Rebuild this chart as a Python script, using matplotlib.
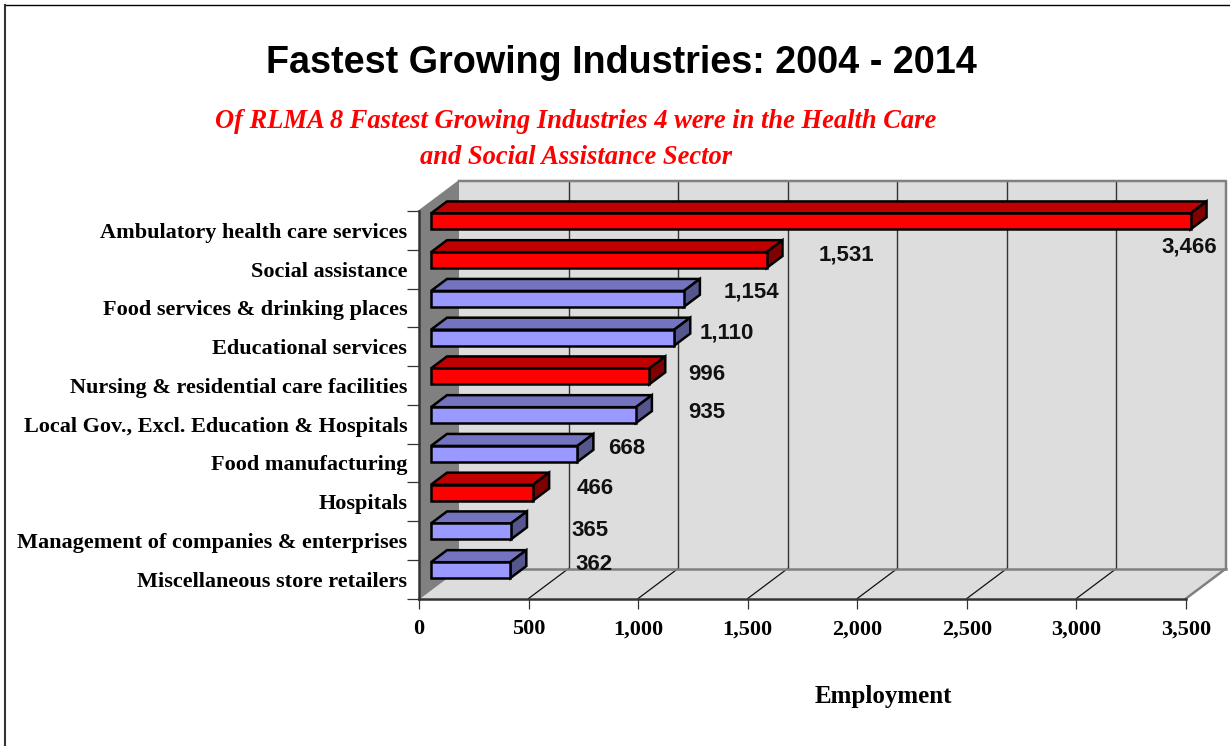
import matplotlib
matplotlib.use('Agg')
import matplotlib.pyplot as plt
from matplotlib.patches import Polygon
from matplotlib.lines import Line2D

industries = ['Ambulatory health care services', 'Social assistance',
              'Food services & drinking places', 'Educational services',
              'Nursing & residential care facilities',
              'Local Gov., Excl. Education & Hospitals', 'Food manufacturing',
              'Hospitals', 'Management of companies & enterprises',
              'Miscellaneous store retailers']
employment = [3466, 1531, 1154, 1110, 996, 935, 668, 466, 365, 362]
health_sector = [True, True, False, False, True, False, False, True, False, False]
value_labels = ['3,466', '1,531', '1,154', '1,110', '996', '935', '668', '466', '365', '362']
x_ticks = [0, 500, 1000, 1500, 2000, 2500, 3000, 3500]
x_tick_labels = ['0', '500', '1,000', '1,500', '2,000', '2,500', '3,000', '3,500']

# label centres in the original sit by hand, given here in pixels
label_px = [(1189, 247), (846, 255), (751, 292), (727, 333), (707, 374),
            (707, 413), (627, 449), (595, 488), (590, 531), (594, 565)]

W, H = 1230, 746
X0, X1, Y_TOP, Y_BOT = 419, 1186, 211, 598.5
DEPTH_X, DEPTH_Y = 40, 30

fig = plt.figure(figsize=(W / 100, H / 100), dpi=100)
ax = fig.add_axes([X0 / W, 1 - Y_BOT / H, (X1 - X0) / W, (Y_BOT - Y_TOP) / H])
ax.set_xlim(0, 3500)
ax.set_ylim(10, 0)
ax.patch.set_visible(False)

# depth of the fake 3d box in data units
dx = DEPTH_X * 3500 / (X1 - X0)
dy = DEPTH_Y * 10 / (Y_BOT - Y_TOP)


def poly(pts, fc, ec='none', lw=0, z=1):
    ax.add_patch(Polygon(pts, closed=True, facecolor=fc, edgecolor=ec, linewidth=lw,
                         zorder=z, clip_on=False, joinstyle='miter'))


def line(xs, ys, color, lw, z=2):
    ax.add_line(Line2D(xs, ys, color=color, linewidth=lw, zorder=z, clip_on=False))


# walls and floor
poly([(dx, -dy), (3500 + dx, -dy), (3500 + dx, 10 - dy), (dx, 10 - dy)], '#DDDDDD')
poly([(0, 0), (dx, -dy), (dx, 10 - dy), (0, 10)], '#808080')
poly([(0, 10), (dx, 10 - dy), (3500 + dx, 10 - dy), (3500, 10)], '#DDDDDD')

for t in x_ticks[1:-1]:
    line([t + dx, t + dx], [-dy, 10 - dy], '#333333', 1.0)
    line([t, t + dx], [10, 10 - dy], '#111111', 0.9)

line([dx, 3500 + dx, 3500 + dx, 3500], [-dy, -dy, 10 - dy, 10], '#808080', 1.8, 3)
line([dx, 3500 + dx], [10 - dy, 10 - dy], '#808080', 1.8, 3)
line([0, dx], [0, -dy], '#808080', 1.2, 3)
line([0, dx], [10, 10 - dy], '#808080', 1.2, 3)

# bars, front face sits 0.3 of the way into the depth
front = 0.3
back = 0.7
half = 0.205
for i, val in enumerate(employment):
    if health_sector[i]:
        face, top, side = '#FF0000', '#BF0000', '#7F0000'
    else:
        face, top, side = '#9999FF', '#7373BF', '#56568F'
    x0 = front * dx
    x1 = val + front * dx
    y_hi = i + 0.5 - half - front * dy
    y_lo = i + 0.5 + half - front * dy
    ox = (back - front) * dx
    oy = (back - front) * dy
    poly([(x0, y_hi), (x0 + ox, y_hi - oy), (x1 + ox, y_hi - oy), (x1, y_hi)],
         top, 'black', 1.8, 5)
    poly([(x1, y_hi), (x1 + ox, y_hi - oy), (x1 + ox, y_lo - oy), (x1, y_lo)],
         side, 'black', 1.8, 5)
    poly([(x0, y_hi), (x1, y_hi), (x1, y_lo), (x0, y_lo)], face, 'black', 1.8, 6)

    fig.text(label_px[i][0] / W, 1 - label_px[i][1] / H, value_labels[i],
             family='Liberation Sans', fontweight='bold', fontsize=16,
             color='#111111', ha='center', va='center', zorder=10)

# axes and ticks
for s in ['top', 'right']:
    ax.spines[s].set_visible(False)
for s in ['left', 'bottom']:
    ax.spines[s].set_color('#333333')
    ax.spines[s].set_linewidth(1.8)
    ax.spines[s].set_zorder(4)

ax.set_xticks(x_ticks)
ax.set_xticklabels(x_tick_labels, family='Liberation Serif', fontweight='bold', fontsize=16)
ax.tick_params(axis='x', length=7, width=0.9, color='#333333', pad=8)
ax.set_yticks(range(11))
ax.set_yticklabels([])
ax.tick_params(axis='y', which='major', length=9, width=0.9, color='#333333')
ax.set_yticks([i + 0.5 for i in range(10)], minor=True)
ax.set_yticklabels(industries, minor=True, family='Liberation Serif', fontweight='bold',
                   fontsize=16)
ax.tick_params(axis='y', which='minor', length=0, pad=8.5)

fig.text(621 / W, 1 - 63 / H, 'Fastest Growing Industries: 2004 - 2014',
         family='Liberation Sans', fontweight='bold', fontsize=27.2, ha='center', va='center')
fig.text(576 / W, 1 - 122 / H, 'Of RLMA 8 Fastest Growing Industries 4 were in the Health Care',
         family='Liberation Serif', fontweight='bold', style='italic', fontsize=19.1,
         color='red', ha='center', va='center')
fig.text(576 / W, 1 - 157 / H, 'and Social Assistance Sector',
         family='Liberation Serif', fontweight='bold', style='italic', fontsize=19.1,
         color='red', ha='center', va='center')
fig.text(883 / W, 1 - 696 / H, 'Employment', family='Liberation Serif', fontweight='bold',
         fontsize=18, ha='center', va='center')

# outer frame, only top and left are visible in the crop
fig.add_artist(Line2D([5 / W, 1], [1 - 4.5 / H, 1 - 4.5 / H], color='black', linewidth=1))
fig.add_artist(Line2D([5 / W, 5 / W], [0, 1 - 4.5 / H], color='#333333', linewidth=1.5))

fig.savefig('out.png', dpi=100)
